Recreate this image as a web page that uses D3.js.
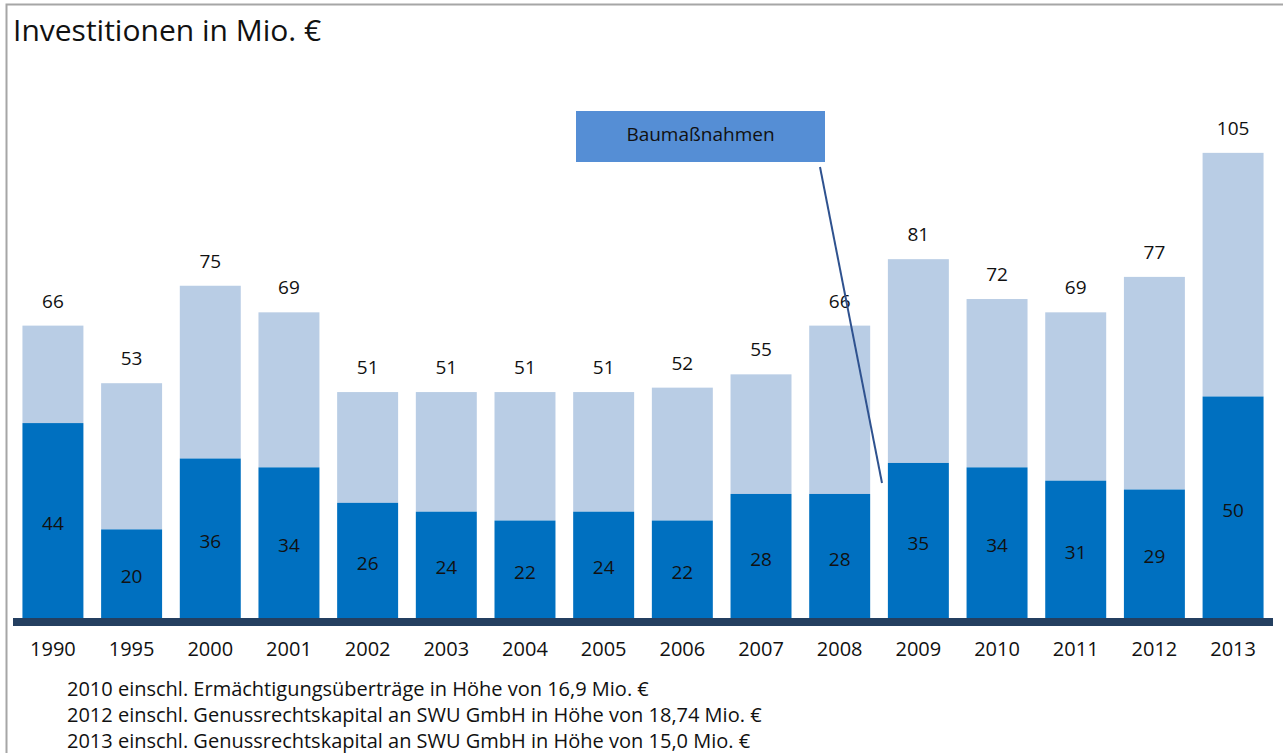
<!DOCTYPE html>
<html>
<head>
<meta charset="utf-8">
<script src="https://cdn.jsdelivr.net/npm/d3@7"></script>
<style>
  body { margin: 0; background: #fff; }
  text { font-family: "Open Sans", "Noto Sans", sans-serif; fill: #111; }
</style>
</head>
<body>
<div id="chart"></div>
<script>
// Chart data
var years = ["1990", "1995", "2000", "2001", "2002", "2003", "2004", "2005",
             "2006", "2007", "2008", "2009", "2010", "2011", "2012", "2013"];
var baseValues = [44, 20, 36, 34, 26, 24, 22, 24, 22, 28, 28, 35, 34, 31, 29, 50];
var totalValues = [66, 53, 75, 69, 51, 51, 51, 51, 52, 55, 66, 81, 72, 69, 77, 105];
var footnotes = [
  "2010 einschl. Ermächtigungsüberträge in Höhe von 16,9 Mio. €",
  "2012 einschl. Genussrechtskapital an SWU GmbH in Höhe von 18,74 Mio. €",
  "2013 einschl. Genussrechtskapital an SWU GmbH in Höhe von 15,0 Mio. €"
];
var chartTitle = "Investitionen in Mio. €";
var calloutText = "Baumaßnahmen";

var svgWidth = 1283;
var svgHeight = 753;

var svg = d3.select("#chart")
  .append("svg")
  .attr("width", svgWidth)
  .attr("height", svgHeight);

// frame (top + left edge only visible)
svg.append("path")
  .attr("d", "M6.5,753 V4.5 H1283")
  .attr("fill", "none")
  .attr("stroke", "#a6a6a6")
  .attr("stroke-width", 2);

svg.append("text")
  .attr("x", 13)
  .attr("y", 41)
  .attr("font-size", 30)
  .text(chartTitle);

var rows = years.map(function(y, i) {
  return { year: y, base: baseValues[i], total: totalValues[i] };
});

// Scales
var xScale = d3.scaleBand()
  .domain(years)
  .range([13, 1273])
  .paddingInner(0.225)
  .paddingOuter(0.12);

var yScale = d3.scaleLinear()
  .domain([0, 100])
  .range([618, 175]);

var chartGroup = svg.append("g");

// light (total) bars
chartGroup.selectAll(".totalBar")
  .data(rows)
  .enter()
  .append("rect")
  .attr("class", "totalBar")
  .attr("x", d => xScale(d.year))
  .attr("y", d => yScale(d.total))
  .attr("width", xScale.bandwidth())
  .attr("height", d => yScale(d.base) - yScale(d.total))
  .attr("fill", "#b9cde5");

// dark (base) bars
chartGroup.selectAll(".baseBar")
  .data(rows)
  .enter()
  .append("rect")
  .attr("class", "baseBar")
  .attr("x", d => xScale(d.year))
  .attr("y", d => yScale(d.base))
  .attr("width", xScale.bandwidth())
  .attr("height", d => yScale(0) - yScale(d.base))
  .attr("fill", "#0070c0");

// labels
chartGroup.selectAll(".totalLabel")
  .data(rows)
  .enter()
  .append("text")
  .attr("text-anchor", "middle")
  .attr("font-size", 19)
  .attr("x", d => xScale(d.year) + xScale.bandwidth() / 2)
  .attr("y", d => yScale(d.total) - 18)
  .text(d => d.total);

chartGroup.selectAll(".baseLabel")
  .data(rows)
  .enter()
  .append("text")
  .attr("text-anchor", "middle")
  .attr("font-size", 19)
  .attr("x", d => xScale(d.year) + xScale.bandwidth() / 2)
  .attr("y", d => (yScale(d.base) + yScale(0)) / 2 + 3)
  .attr("dy", "0.35em")
  .text(d => d.base);

// x axis
var xAxis = d3.axisBottom(xScale).tickSize(0).tickPadding(24);
var axisG = chartGroup.append("g")
  .attr("transform", `translate(0, ${yScale(0)})`)
  .call(xAxis);
axisG.select(".domain").remove();
axisG.selectAll("text")
  .attr("font-size", 20)
  .attr("fill", "#111")
  .style("font-family", "\"Open Sans\", sans-serif");

chartGroup.append("rect")
  .attr("x", 13)
  .attr("y", yScale(0))
  .attr("width", 1260)
  .attr("height", 8)
  .attr("fill", "#243f60");

// callout
var box = { x: 576, y: 111, w: 249, h: 51 };
svg.append("rect")
  .attr("x", box.x)
  .attr("y", box.y)
  .attr("width", box.w)
  .attr("height", box.h)
  .attr("fill", "#558ed5");
svg.append("text")
  .attr("x", box.x + box.w / 2)
  .attr("y", box.y + 23)
  .attr("dy", "0.35em")
  .attr("text-anchor", "middle")
  .attr("font-size", 19)
  .text(calloutText);
svg.append("line")
  .attr("x1", 820).attr("y1", 167)
  .attr("x2", 882).attr("y2", 483)
  .attr("stroke", "#2f528f")
  .attr("stroke-width", 2);

// footnotes
svg.selectAll(".note")
  .data(footnotes)
  .enter()
  .append("text")
  .attr("x", 67)
  .attr("y", (d, i) => 696 + i * 26)
  .attr("font-size", 20)
  .text(d => d);
</script>
</body>
</html>
